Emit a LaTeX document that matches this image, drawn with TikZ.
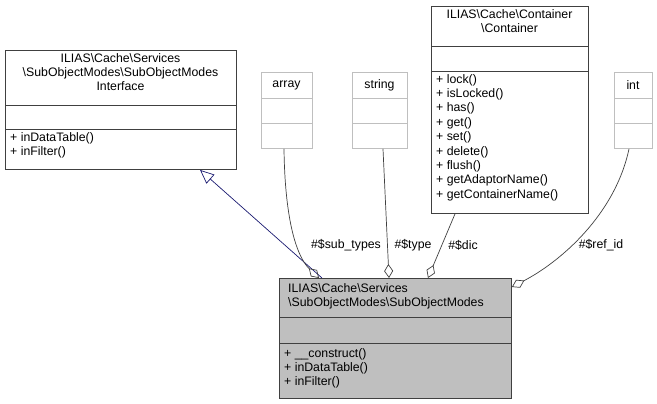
\documentclass[tikz,border=0pt]{standalone}
\usepackage{fontspec}
\setmainfont{Liberation Sans}
\usetikzlibrary{arrows.meta,calc}
\begin{document}
\begin{tikzpicture}[x=1pt,y=-1pt,
  box/.style={draw=black!75,line width=0.9pt,anchor=north west,inner sep=0pt},
  lbox/.style={draw=black!25,line width=0.9pt,anchor=north west,inner sep=0pt},
  txt/.style={font=\fontsize{12.3}{14.4}\selectfont,inner sep=0pt},
  edge/.style={draw=black!75,line width=0.7pt},
  agg/.style={edge,{Diamond[open,length=14pt,width=9pt]}-},
  inh/.style={draw={rgb,255:red,25;green,25;blue,112},line width=0.7pt,{Triangle[open,length=14pt,width=12pt]}-}]
\useasboundingbox (0,0) rectangle (657,404);
% interface
\node[box,minimum width=231,minimum height=119] (iface) at (5,50) {};
\draw[black!75,line width=0.9pt] (5,105) -- (236,105) (5,129) -- (236,129);
\node[txt,align=center,anchor=north] (ifacet) at (120.5,53) {ILIAS\textbackslash Cache\textbackslash Services\\\textbackslash SubObjectModes\textbackslash SubObjectModes\\Interface};
\node[txt,align=left,anchor=north west] (ifacem) at (10,132) {+ inDataTable()\\+ inFilter()};
% array
\node[lbox,minimum width=51,minimum height=76] (arr) at (261,72) {};
\draw[black!25,line width=0.9pt] (261,98) -- (312,98) (261,123) -- (312,123);
\node[txt] (arrt) at (286.5,85) {array};
% string
\node[lbox,minimum width=55,minimum height=76] (str) at (352,72) {};
\draw[black!25,line width=0.9pt] (352,98) -- (407,98) (352,123) -- (407,123);
\node[txt] (strt) at (379.5,85) {string};
% container
\node[box,minimum width=157,minimum height=207] (cont) at (431,6) {};
\draw[black!75,line width=0.9pt] (431,46) -- (588,46) (431,71) -- (588,71);
\node[txt,align=center,anchor=north] (contt) at (509.5,9) {ILIAS\textbackslash Cache\textbackslash Container\\\textbackslash Container};
\node[txt,align=left,anchor=north west] (contm) at (436,74) {+ lock()\\+ isLocked()\\+ has()\\+ get()\\+ set()\\+ delete()\\+ flush()\\+ getAdaptorName()\\+ getContainerName()};
% int
\node[lbox,minimum width=38,minimum height=76] (int) at (614,72) {};
\draw[black!25,line width=0.9pt] (614,98) -- (652,98) (614,123) -- (652,123);
\node[txt] (intt) at (633,85) {int};
% main
\node[box,fill=black!25,minimum width=232,minimum height=120] (main) at (279,278) {};
\draw[black!75,line width=0.9pt] (279,317) -- (511,317) (279,343) -- (511,343);
\node[txt,align=left,anchor=north west] (maint) at (288,283) {ILIAS\textbackslash Cache\textbackslash Services\\\textbackslash SubObjectModes\textbackslash SubObjectModes};
\node[txt,align=left,anchor=north west] (mainm) at (284,348) {+ \_\_construct()\\+ inDataTable()\\+ inFilter()};
% edges
\draw[inh] ($(iface.south west)+(195,0)$) -- ($(main.north west)+(43,0)$);
\draw[agg] ($(main.north west)+(40,0)$) .. controls (298,258) and (285,225) .. ($(arr.south west)+(23,0)$);
\draw[agg] ($(main.north west)+(110,0)$) -- ($(str.south west)+(31,0)$);
\draw[agg] ($(main.north west)+(149,0)$) -- ($(cont.south west)+(24,0)$);
\draw[agg] ($(main.north east)+(0,9)$) .. controls (560,262) and (615,215) .. ($(int.south west)+(15,0)$);
\node[txt] (l1) at (346,245) {\#\$sub\_types};
\node[txt] (l2) at (413,245) {\#\$type};
\node[txt] (l3) at (463,245) {\#\$dic};
\node[txt] (l4) at (601,245) {\#\$ref\_id};
\end{tikzpicture}
\end{document}
